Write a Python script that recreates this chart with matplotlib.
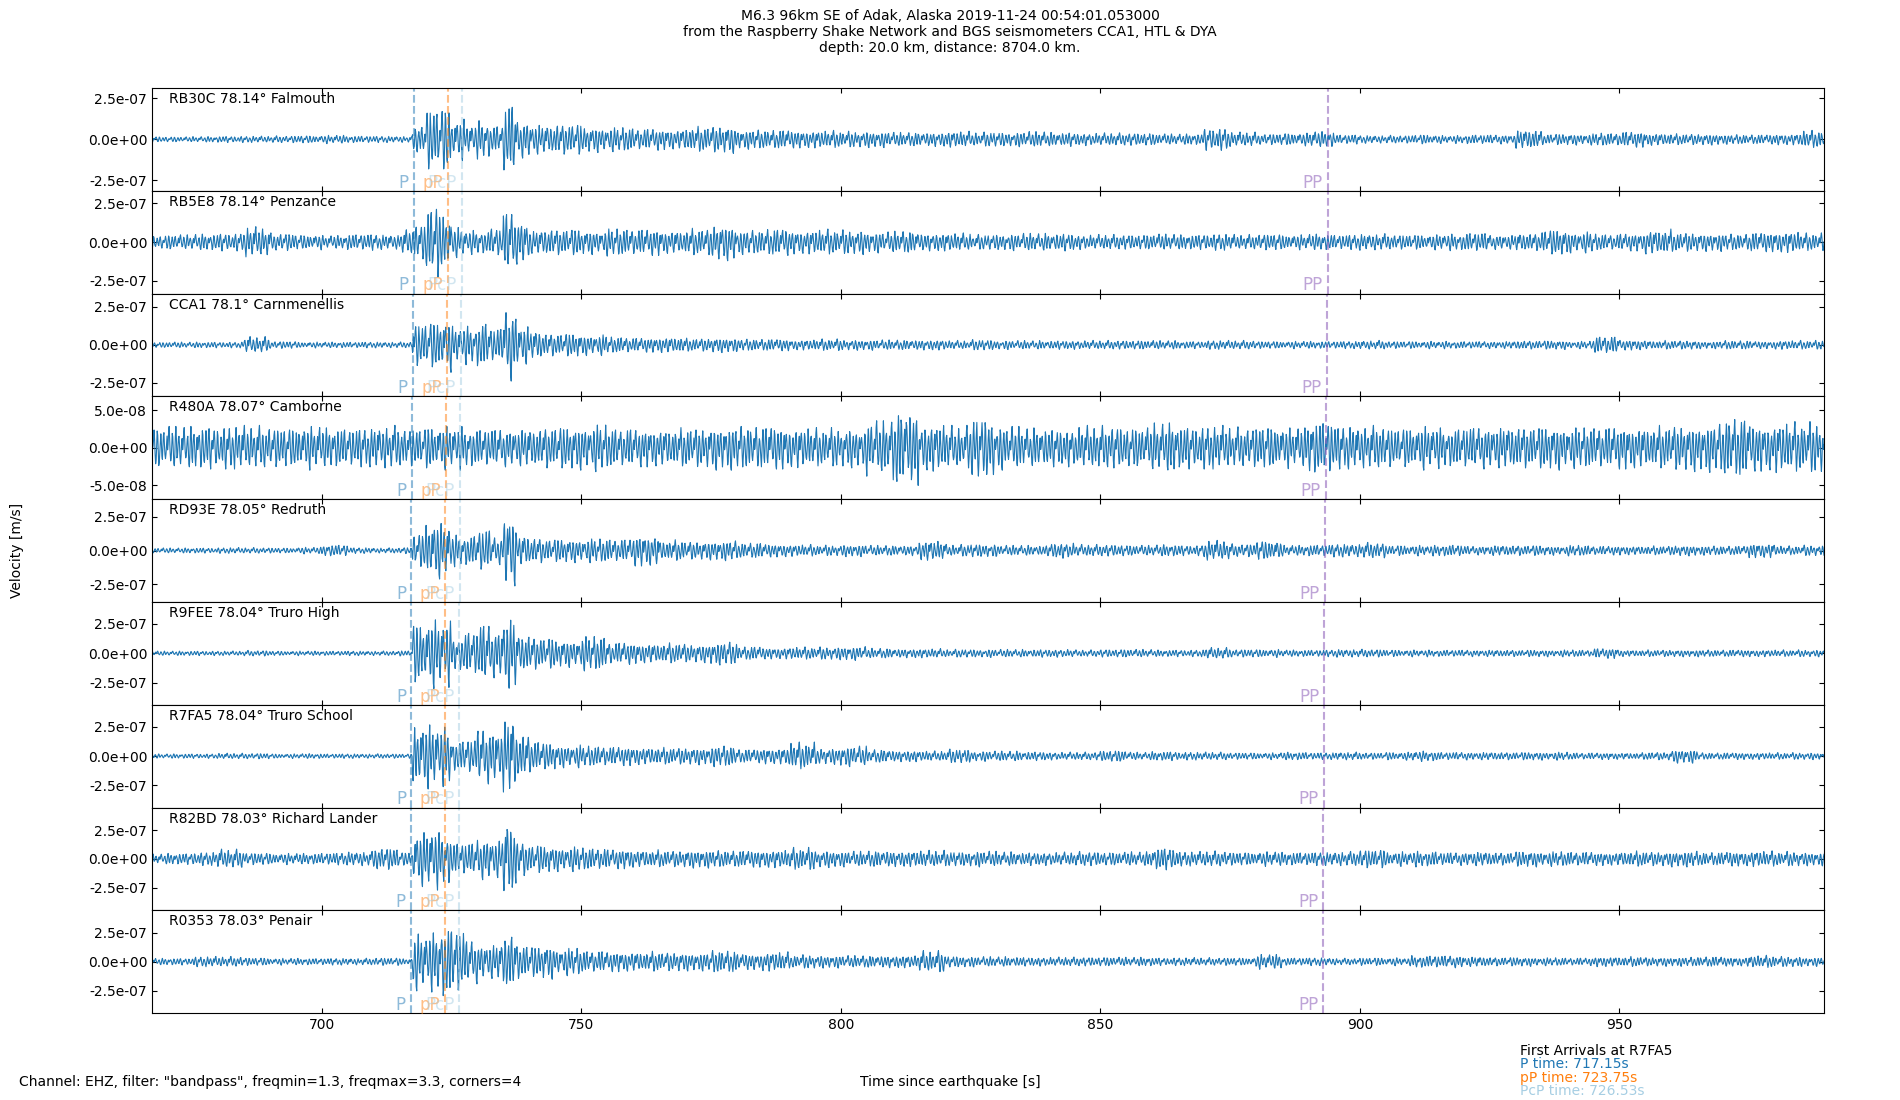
import numpy as np
import matplotlib
matplotlib.use('Agg')
from matplotlib import pyplot as plt
from matplotlib.ticker import FormatStrFormatter

stations = ['RB30C', 'RB5E8', 'CCA1', 'R480A', 'RD93E', 'R9FEE', 'R7FA5', 'R82BD', 'R0353']
distances = ['78.14', '78.14', '78.1', '78.07', '78.05', '78.04', '78.04', '78.03', '78.03']
places = ['Falmouth', 'Penzance', 'Carnmenellis', 'Camborne', 'Redruth', 'Truro High',
          'Truro School', 'Richard Lander', 'Penair']

# arrival times [s] per station
p_times = [717.7, 717.7, 717.5, 717.3, 717.2, 717.15, 717.15, 717.1, 717.1]
pp_depth_times = [724.3, 724.3, 724.1, 723.9, 723.8, 723.75, 723.75, 723.7, 723.7]
pcp_times = [727.0, 727.0, 726.8, 726.6, 726.55, 726.53, 726.53, 726.5, 726.5]
PP_times = [893.8, 893.8, 893.6, 893.4, 893.2, 893.1, 893.0, 892.9, 892.9]

# y range and tick value per panel [1e-7 m/s]
ylims = [3.13, 3.32, 3.38, 0.6875, 3.79, 4.375, 4.375, 4.45, 4.4]
ytick_vals = [2.5, 2.5, 2.5, 0.5, 2.5, 2.5, 2.5, 2.5, 2.5]

# start of each amplitude window [s]
bin_start = np.concatenate([np.arange(665, 715, 5), np.arange(715, 745, 2.5), np.arange(745, 990, 5)])

# peak velocity read per window [1e-7 m/s]
amp_rb30c = [0.18, 0.16, 0.18, 0.2, 0.2, 0.22, 0.24, 0.26, 0.22, 0.2,
             0.2, 0.9, 2.0, 2.0, 1.3, 1.0, 1.2, 0.9, 2.3, 1.2, 1.0, 0.9,
             1.0, 0.8, 0.75, 0.7, 0.65, 0.8, 0.85, 0.6, 0.6, 0.55,
             0.55, 0.5, 0.5, 0.45, 0.45, 0.5, 0.45, 0.45, 0.5, 0.45,
             0.4, 0.4, 0.4, 0.35, 0.35, 0.7, 0.45, 0.35, 0.4, 0.5,
             0.3, 0.25, 0.25, 0.3, 0.25, 0.3, 0.3, 0.6, 0.35, 0.35,
             0.4, 0.5, 0.4, 0.35, 0.35, 0.3, 0.3, 0.35, 0.55]
amp_rb5e8 = [0.45, 0.5, 0.55, 0.6, 1.0, 0.6, 0.5, 0.45, 0.55, 0.5,
             0.8, 1.2, 2.5, 2.0, 1.0, 0.8, 0.8, 1.0, 2.1, 1.5, 0.8, 0.9,
             0.9, 0.8, 0.9, 0.9, 0.8, 0.9, 1.2, 0.8, 0.9, 0.8,
             0.85, 0.8, 0.7, 0.75, 0.6, 0.6, 0.5, 0.55, 0.6, 0.6,
             0.5, 0.5, 0.5, 0.55, 0.5, 0.55, 0.5, 0.55, 0.5, 0.55,
             0.5, 0.55, 0.5, 0.5, 0.55, 0.65, 0.5, 0.6, 0.85, 0.7,
             0.55, 0.6, 0.85, 0.65, 0.6, 0.55, 0.65, 0.7, 0.6]
amp_cca1 = [0.18, 0.2, 0.2, 0.2, 0.55, 0.25, 0.2, 0.2, 0.2, 0.2,
            0.2, 1.5, 1.6, 1.8, 1.3, 1.3, 1.6, 1.2, 2.5, 1.4, 1.0, 0.8,
            0.8, 0.7, 0.55, 0.5, 0.55, 0.45, 0.5, 0.4, 0.4, 0.35,
            0.4, 0.35, 0.35, 0.35, 0.35, 0.3, 0.35, 0.3, 0.3, 0.3,
            0.3, 0.3, 0.3, 0.3, 0.25, 0.3, 0.3, 0.25, 0.25, 0.25,
            0.25, 0.3, 0.25, 0.25, 0.25, 0.25, 0.25, 0.3, 0.3, 0.25,
            0.6, 0.35, 0.3, 0.3, 0.25, 0.3, 0.25, 0.3, 0.3]
amp_r480a = [0.28, 0.3, 0.3, 0.3, 0.3, 0.28, 0.3, 0.28, 0.27, 0.3,
             0.27, 0.28, 0.3, 0.3, 0.3, 0.28, 0.27, 0.27, 0.27, 0.27, 0.27, 0.3,
             0.3, 0.32, 0.28, 0.27, 0.27, 0.28, 0.3, 0.3, 0.3, 0.28,
             0.27, 0.27, 0.38, 0.53, 0.33, 0.3, 0.42, 0.3, 0.28, 0.27,
             0.3, 0.3, 0.28, 0.35, 0.3, 0.3, 0.28, 0.3, 0.28, 0.38,
             0.3, 0.3, 0.28, 0.3, 0.28, 0.3, 0.3, 0.3, 0.3, 0.28,
             0.3, 0.3, 0.3, 0.32, 0.33, 0.42, 0.33, 0.35, 0.35]
amp_rd93e = [0.2, 0.2, 0.2, 0.22, 0.22, 0.2, 0.25, 0.45, 0.22, 0.2,
             0.25, 1.3, 2.3, 2.1, 1.2, 1.2, 1.7, 1.1, 2.9, 1.2, 1.0, 0.9,
             0.9, 0.9, 0.9, 1.2, 0.8, 0.7, 0.75, 0.6, 0.5, 0.45,
             0.4, 0.45, 0.4, 0.4, 0.75, 0.45, 0.5, 0.4, 0.4, 0.6,
             0.45, 0.45, 0.4, 0.45, 0.4, 0.75, 0.5, 0.75, 0.4, 0.45,
             0.5, 0.6, 0.4, 0.4, 0.45, 0.35, 0.4, 0.4, 0.35, 0.4,
             0.35, 0.35, 0.35, 0.4, 0.35, 0.35, 0.55, 0.35, 0.4]
amp_r9fee = [0.2, 0.2, 0.2, 0.2, 0.25, 0.2, 0.2, 0.2, 0.2, 0.2,
             0.25, 2.7, 3.0, 2.9, 1.6, 2.0, 2.7, 2.2, 3.3, 1.7, 1.5, 1.4,
             1.2, 1.5, 1.0, 0.9, 0.9, 0.8, 1.0, 0.6, 0.5, 0.55,
             0.55, 0.6, 0.45, 0.4, 0.4, 0.35, 0.35, 0.35, 0.35, 0.35,
             0.3, 0.35, 0.35, 0.3, 0.3, 0.5, 0.35, 0.35, 0.3, 0.3,
             0.35, 0.35, 0.3, 0.3, 0.3, 0.3, 0.3, 0.3, 0.3, 0.3,
             0.45, 0.3, 0.3, 0.3, 0.3, 0.3, 0.3, 0.3, 0.3]
amp_r7fa5 = [0.2, 0.2, 0.2, 0.25, 0.25, 0.2, 0.22, 0.2, 0.2, 0.2,
             0.2, 3.0, 2.8, 2.6, 1.4, 1.6, 2.5, 2.4, 3.4, 2.0, 1.5, 1.2,
             1.0, 0.9, 0.85, 0.8, 0.75, 0.75, 0.9, 0.6, 0.7, 1.2,
             0.7, 0.9, 0.6, 0.5, 0.45, 0.6, 0.45, 0.45, 0.4, 0.35,
             0.35, 0.5, 0.35, 0.4, 0.35, 0.35, 0.3, 0.3, 0.35, 0.3,
             0.35, 0.3, 0.35, 0.45, 0.35, 0.35, 0.35, 0.35, 0.35, 0.3,
             0.3, 0.3, 0.35, 0.6, 0.3, 0.3, 0.3, 0.3, 0.3]
amp_r82bd = [0.45, 0.5, 0.6, 0.85, 0.55, 0.5, 0.5, 0.55, 0.65, 1.0,
             0.6, 2.4, 2.7, 2.4, 1.5, 1.5, 1.9, 1.8, 3.4, 1.6, 1.3, 1.2,
             1.1, 1.0, 0.9, 0.8, 0.75, 0.8, 0.75, 0.75, 0.8, 1.0,
             0.75, 0.7, 0.75, 0.7, 0.75, 0.65, 0.7, 0.65, 0.6, 0.6,
             0.65, 0.6, 0.65, 1.0, 0.65, 0.7, 0.6, 0.65, 0.6, 0.6,
             0.65, 0.85, 0.65, 0.7, 0.6, 0.65, 0.6, 0.7, 0.65, 0.65,
             0.6, 0.7, 0.65, 0.7, 0.6, 0.65, 0.7, 0.65, 0.6]
amp_r0353 = [0.3, 0.3, 0.45, 0.45, 0.35, 0.3, 0.3, 0.3, 0.3, 0.35,
             0.3, 2.5, 2.6, 3.4, 3.0, 2.0, 1.6, 1.6, 2.6, 1.6, 1.4, 1.5,
             1.2, 1.0, 0.9, 0.9, 0.85, 0.8, 1.0, 0.7, 0.85, 0.6,
             0.55, 0.55, 0.55, 0.55, 0.95, 0.5, 0.45, 0.45, 0.4, 0.4,
             0.4, 0.4, 0.4, 0.35, 0.35, 0.35, 0.35, 0.65, 0.35, 0.35,
             0.3, 0.35, 0.35, 0.55, 0.55, 0.45, 0.4, 0.4, 0.35, 0.35,
             0.45, 0.45, 0.4, 0.4, 0.45, 0.4, 0.55, 0.45, 0.4]
amps = [amp_rb30c, amp_rb5e8, amp_cca1, amp_r480a, amp_rd93e,
        amp_r9fee, amp_r7fa5, amp_r82bd, amp_r0353]

# wiggle shape of the band-passed trace, and its slow amplitude variation
carrier_shape = [0.15, 0.75, 1.0, 0.45, -0.35, -0.9, -0.7, 0.05, 0.8, 0.6, -0.2, -0.85, -1.0, -0.3,
                 0.5, 0.95, 0.4, -0.45, -0.65, 0.1, 0.7, 0.85, 0.2, -0.6, -0.95, -0.5, 0.3, 0.55, -0.1]
mod_shape = [1.0, 0.7, 0.85, 0.55, 0.95, 0.65, 0.8, 1.0, 0.6, 0.75, 0.9, 0.5, 0.85]

title = ('M6.3 96km SE of Adak, Alaska 2019-11-24 00:54:01.053000\n'
         'from the Raspberry Shake Network and BGS seismometers CCA1, HTL & DYA\n'
         'depth: 20.0 km, distance: 8704.0 km.')
filter_text = 'Channel: EHZ, filter: "bandpass", freqmin=1.3, freqmax=3.3, corners=4'

phases = [(p_times, 'P', 'C0', 0.5),
          (pp_depth_times, 'pP', 'C1', 0.5),
          (pcp_times, 'PcP', '#a6cee3', 0.5),
          (PP_times, 'PP', 'C4', 0.6)]

fig, axes = plt.subplots(len(stations), 1, sharex=True, figsize=(19, 11), dpi=100)
fig.subplots_adjust(left=0.08, right=0.96, top=0.92, bottom=0.079, hspace=0)

t = np.arange(665, 990, 0.1)
idx = np.searchsorted(bin_start, t, side='right') - 1
carrier = np.array(carrier_shape)
mod = np.array(mod_shape)

for k, ax in enumerate(axes):
    n = np.arange(len(t)) + 11 * k
    wave = np.asarray(amps[k])[idx] * carrier[n % len(carrier)] * mod[(n // 5) % len(mod)] * 1e-7
    ax.plot(t, wave, color='C0', lw=0.8)
    ax.set_xlim(667.3, 989.4)
    ax.set_ylim(-ylims[k] * 1e-7, ylims[k] * 1e-7)
    ax.set_yticks([-ytick_vals[k] * 1e-7, 0, ytick_vals[k] * 1e-7])
    ax.yaxis.set_major_formatter(FormatStrFormatter('%.1e'))
    ax.tick_params(direction='in', top=True, right=True, labelsize=10)
    ax.text(0.01, 0.96, f'{stations[k]} {distances[k]}° {places[k]}',
            transform=ax.transAxes, va='top', fontsize=10)
    for times, name, col, a in phases:
        ax.axvline(times[k], color=col, ls='--', lw=1.5, alpha=a)
        ax.text(times[k] - 0.9, 0.03, name, color=col, alpha=a, ha='right', va='baseline',
                fontsize=12, transform=ax.get_xaxis_transform())

fig.suptitle(title, fontsize=10, y=0.992)
fig.text(0.5, 0.01, 'Time since earthquake [s]', ha='center', va='bottom', fontsize=10)
fig.text(0.009, 0.5, 'Velocity [m/s]', rotation=90, ha='center', va='center', fontsize=10)
fig.text(0.01, 0.01, filter_text, ha='left', va='bottom', fontsize=10)

ref = stations.index('R7FA5')
fig.text(0.8, 0.0448, f'First Arrivals at {stations[ref]}', va='center', fontsize=10)
fig.text(0.8, 0.0327, f'P time: {p_times[ref]:.2f}s', color='C0', va='center', fontsize=10)
fig.text(0.8, 0.0203, f'pP time: {pp_depth_times[ref]:.2f}s', color='C1', va='center', fontsize=10)
fig.text(0.8, 0.0084, f'PcP time: {pcp_times[ref]:.2f}s', color='#a6cee3', va='center', fontsize=10)

fig.savefig('out.png', dpi=100)
